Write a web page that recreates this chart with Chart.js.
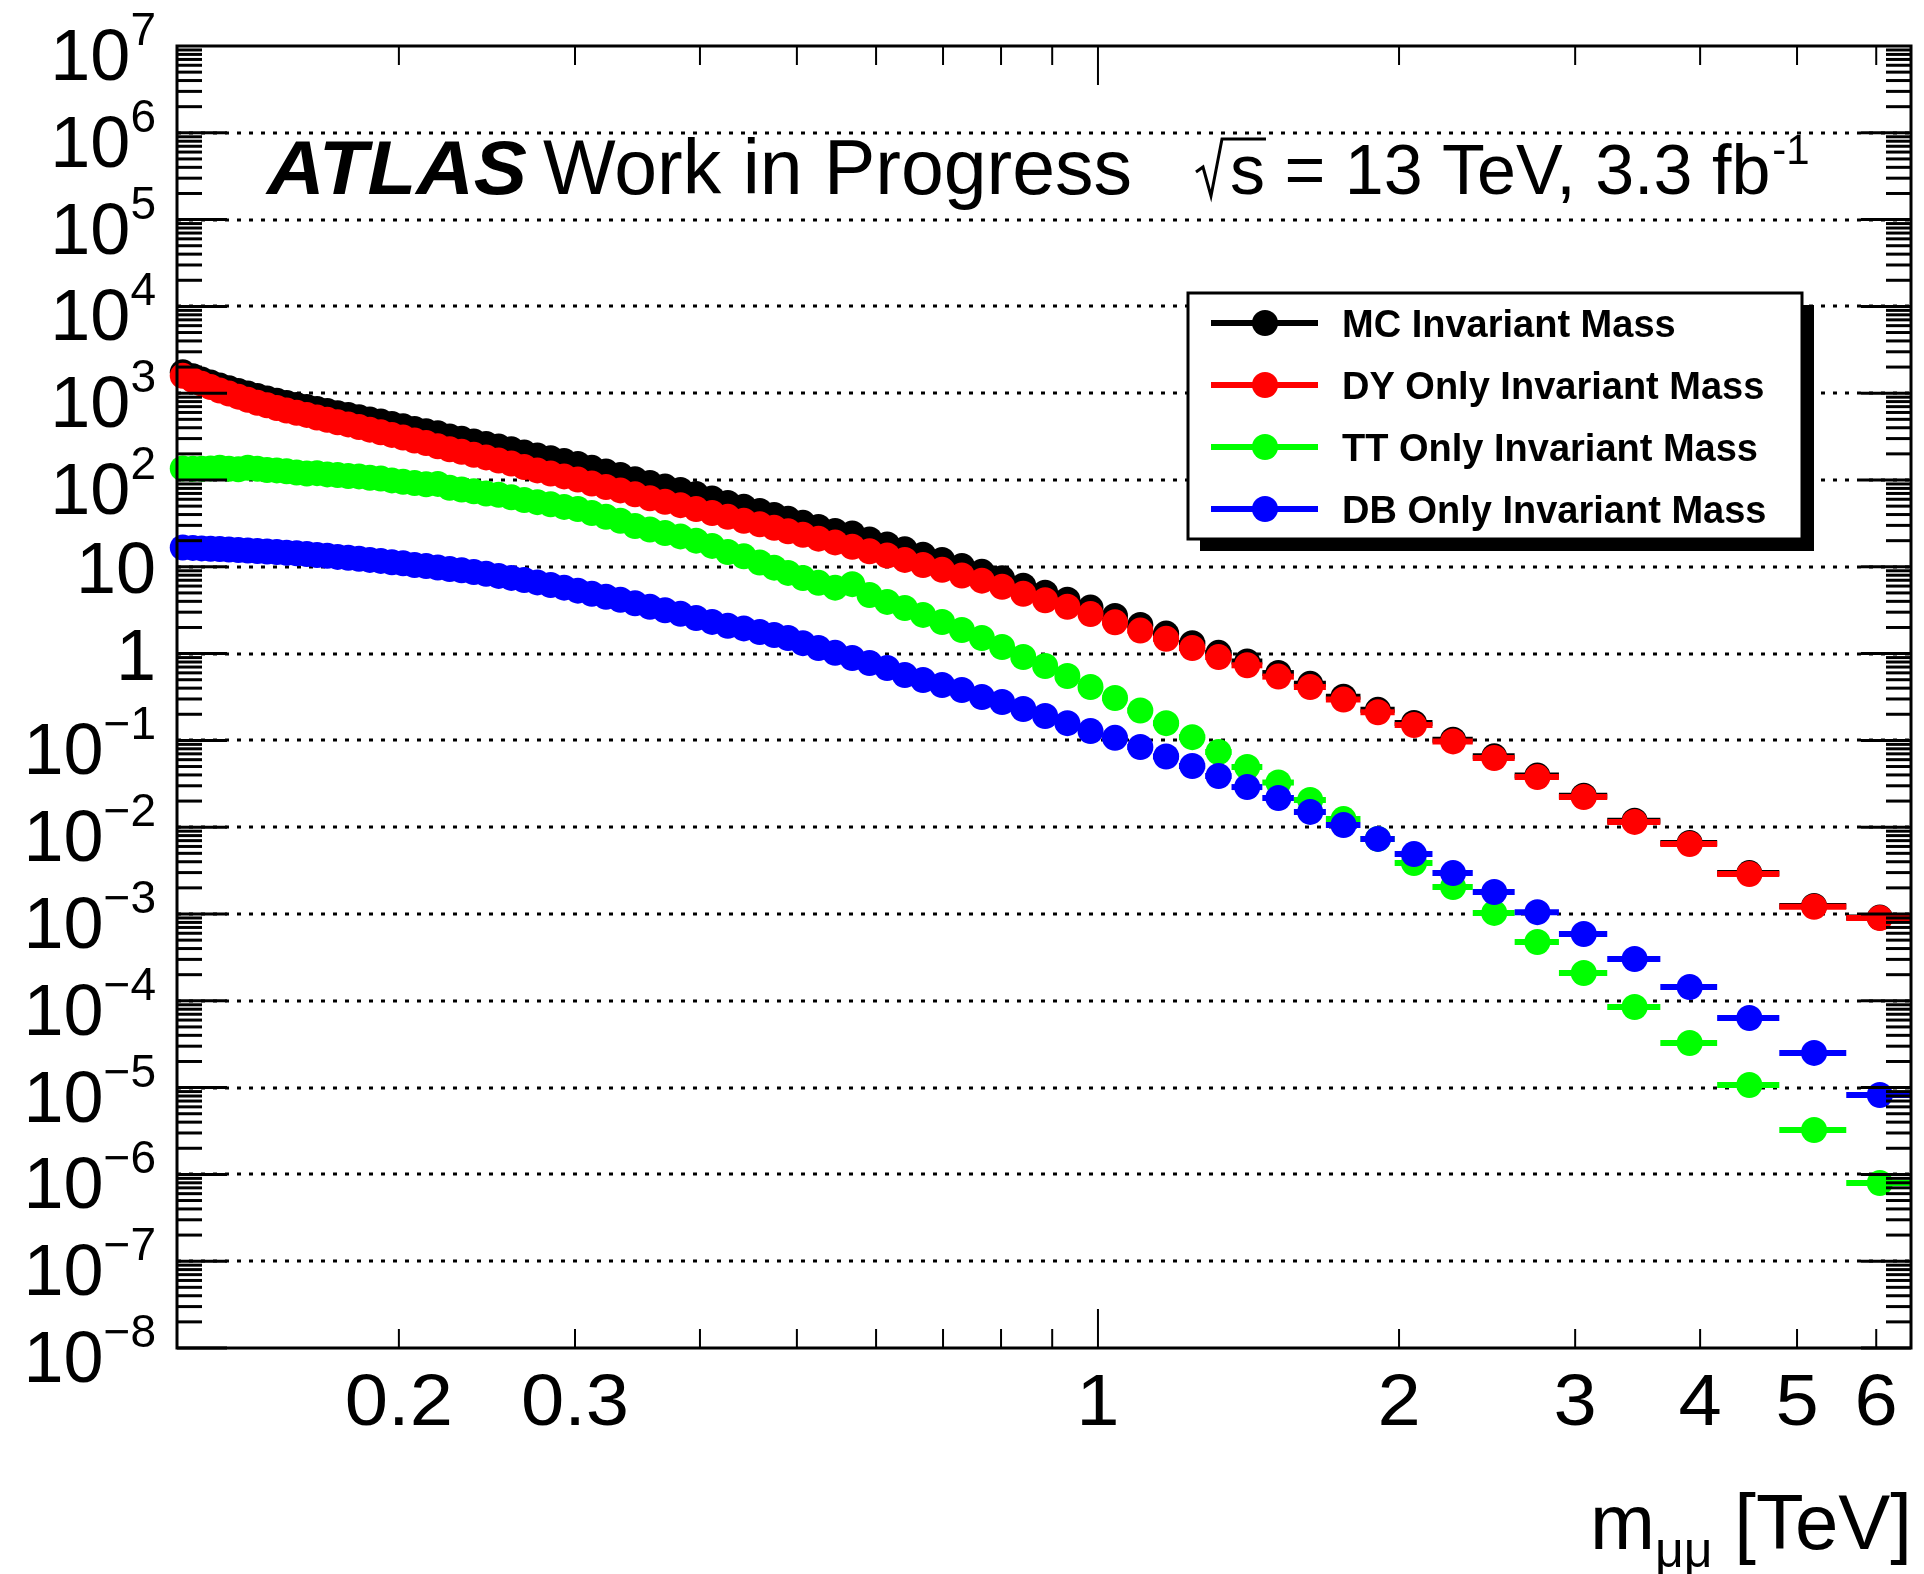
<!DOCTYPE html>
<html>
<head>
<meta charset="utf-8">
<script src="https://cdn.jsdelivr.net/npm/chart.js@4/dist/chart.umd.min.js"></script>
<style>
    html, body { margin: 0; padding: 0; background: #ffffff; }
    #massChart { display: block; }
</style>
</head>
<body>
<canvas id="massChart" width="1924" height="1574"></canvas>
<script>
// histogram bin edges, m_mumu in TeV
const massEdges = [
    0.120, 0.1232, 0.1257, 0.1283, 0.1310, 0.1338, 0.1367, 0.1397, 0.1428, 0.1460,
    0.1493, 0.1527, 0.1562, 0.1599, 0.1637, 0.1676, 0.1716, 0.1758, 0.1802, 0.1847,
    0.1894, 0.1943, 0.1993, 0.2046, 0.2101, 0.2158, 0.2217, 0.2279, 0.2343, 0.2410,
    0.2480, 0.2553, 0.2629, 0.2709, 0.2793, 0.2880, 0.2972, 0.3068, 0.3169, 0.3275,
    0.3386, 0.3503, 0.3626, 0.3756, 0.3893, 0.4037, 0.419, 0.434, 0.451, 0.467,
    0.482, 0.498, 0.516, 0.535, 0.557, 0.579, 0.603, 0.628, 0.654, 0.683,
    0.714, 0.748, 0.783, 0.821, 0.863, 0.908, 0.956, 1.01, 1.07, 1.135,
    1.205, 1.28, 1.36, 1.46, 1.57, 1.69, 1.83, 1.98, 2.16, 2.37,
    2.61, 2.89, 3.23, 3.65, 4.16, 4.80, 5.60, 6.5
];

// events per bin, full MC (sum of the three samples)
const yieldMC = [
    1738, 1565, 1439, 1327, 1226, 1140, 1061, 994, 926, 869,
    820, 772, 732, 695, 659, 624, 589, 561, 529, 498,
    471, 441, 416, 388, 365, 345, 317, 298, 278, 260,
    243, 226, 207, 191, 178, 165, 153, 138, 125, 114,
    102, 92.1, 83.9, 76.6, 68.8, 61.4, 54.5, 49.1, 43.9, 39.6,
    35.7, 32.1, 28.8, 25.9, 24.2, 20.6, 18.1, 15.9, 13.8, 12.0,
    10.2, 8.75, 7.36, 6.04, 5.03, 4.18, 3.39, 2.71, 2.14, 1.70,
    1.32, 1.02, 0.811, 0.597, 0.448, 0.318, 0.225, 0.159, 0.102, 0.0655,
    0.0393, 0.0231, 0.0119, 0.00658, 0.00296, 0.00124, 0.000909
];

// Drell-Yan
const yieldDY = [
    1585, 1413, 1288, 1175, 1072, 989, 912, 841, 776, 724,
    676, 631, 596, 562, 525, 495, 462, 437, 407, 380,
    355, 331, 309, 285, 266, 245, 226, 211, 195, 182,
    168, 155, 141, 129, 119, 110, 101, 91.2, 83.2, 75.9,
    68.4, 61.7, 56.2, 51.3, 46.2, 41.7, 37.6, 33.9, 30.9, 28.2,
    25.7, 23.4, 21.1, 19.1, 17.0, 15.1, 13.5, 12.0, 10.5, 9.23,
    7.94, 6.92, 5.89, 4.90, 4.12, 3.47, 2.85, 2.29, 1.84, 1.48,
    1.16, 0.912, 0.733, 0.543, 0.412, 0.295, 0.211, 0.150, 0.0973, 0.0627,
    0.0378, 0.0223, 0.0115, 0.0064, 0.00289, 0.00121, 0.0009
];

// ttbar
const yieldTT = [
    136, 135, 135, 136, 138, 135, 133, 138, 135, 130,
    129, 126, 122, 119, 120, 116, 114, 111, 110, 106,
    104, 98.9, 95.5, 92.3, 89.1, 90.2, 81.3, 77.6, 74.1, 70.0,
    67.6, 63.1, 58.9, 55.6, 52.5, 49.0, 46.2, 41.7, 37.6, 33.9,
    29.5, 26.9, 24.5, 22.4, 20.0, 17.4, 14.8, 13.2, 11.2, 9.77,
    8.51, 7.41, 6.53, 5.75, 6.31, 4.73, 3.94, 3.35, 2.79, 2.31,
    1.87, 1.51, 1.19, 0.914, 0.719, 0.552, 0.412, 0.308, 0.221, 0.158,
    0.109, 0.0735, 0.0494, 0.0327, 0.0206, 0.0124, 0.00733, 0.00387, 0.00205, 0.00103,
    0.000476, 0.000209, 8.49e-5, 3.27e-5, 1.07e-5, 3.25e-6, 7.96e-7
];

// diboson
const yieldDB = [
    16.7, 16.5, 16.3, 16.1, 16.0, 15.8, 15.6, 15.4, 15.2, 15.0,
    14.8, 14.5, 14.3, 14.0, 13.7, 13.4, 13.0, 12.7, 12.4, 12.0,
    11.7, 11.3, 11.0, 10.5, 10.2, 9.82, 9.44, 9.12, 8.71, 8.32,
    7.85, 7.45, 7.05, 6.61, 6.17, 5.75, 5.31, 4.90, 4.52, 4.17,
    3.80, 3.47, 3.16, 2.88, 2.57, 2.32, 2.09, 1.95, 1.77, 1.64,
    1.51, 1.32, 1.16, 1.02, 0.889, 0.780, 0.682, 0.566, 0.497, 0.435,
    0.381, 0.316, 0.277, 0.230, 0.191, 0.158, 0.128, 0.107, 0.0839, 0.0653,
    0.0507, 0.0389, 0.0290, 0.0217, 0.0150, 0.0106, 0.00733, 0.0049, 0.00296, 0.00179,
    0.00105, 0.000589, 0.000303, 0.000144, 6.34e-5, 2.51e-5, 8.22e-6
];

const seriesLabels = ['MC Invariant Mass', 'DY Only Invariant Mass', 'TT Only Invariant Mass', 'DB Only Invariant Mass'];
const xTickValues = [0.2, 0.3, 1, 2, 3, 4, 5, 6];
const xTickLabels = ['0.2', '0.3', '1', '2', '3', '4', '5', '6'];
const yTickExponents = [7, 6, 5, 4, 3, 2, 1, 0, -1, -2, -3, -4, -5, -6, -7, -8];

const FONT = '"Liberation Sans", Arial, Helvetica, sans-serif';
const seriesColors = ['#000000', '#ff0000', '#00ff00', '#0000ff'];

// one point per bin, placed at the bin centre, keeping the edges for the x error bar
function binPoints(values) {
    return values.map(function (v, i) {
        return { x: (massEdges[i] + massEdges[i + 1]) / 2, y: v, lo: massEdges[i], hi: massEdges[i + 1] };
    });
}

function line(ctx, x1, y1, x2, y2) {
    ctx.beginPath();
    ctx.moveTo(x1, y1);
    ctx.lineTo(x2, y2);
    ctx.stroke();
}

// text stretched a little in x, closer to the Helvetica widths
function wideText(ctx, text, x, y, stretch) {
    ctx.save();
    ctx.translate(x, y);
    ctx.scale(stretch, 1);
    ctx.fillText(text, 0, 0);
    ctx.restore();
    return ctx.measureText(text).width * stretch;
}

// dotted horizontal grid at every decade
const gridPlugin = {
    id: 'decadeGrid',
    beforeDatasetsDraw(chart) {
        let ctx = chart.ctx;
        let area = chart.chartArea;
        let ys = chart.scales.y;
        ctx.save();
        ctx.strokeStyle = '#000';
        ctx.lineWidth = 3;
        ctx.setLineDash([4, 8]);
        for (let e = -7; e <= 6; e++) {
            let y = Math.round(ys.getPixelForValue(Math.pow(10, e)));
            line(ctx, area.left, y, area.right, y);
        }
        ctx.restore();
    }
};

// horizontal bars showing the bin width, drawn just under each dataset's markers
const binWidthPlugin = {
    id: 'binWidth',
    beforeDatasetDraw(chart, args) {
        let ctx = chart.ctx;
        let ds = chart.data.datasets[args.index];
        let xs = chart.scales.x;
        let ys = chart.scales.y;
        ctx.save();
        ctx.strokeStyle = ds.backgroundColor;
        ctx.lineWidth = 6;
        ds.data.forEach(function (p) {
            let y = ys.getPixelForValue(p.y);
            line(ctx, xs.getPixelForValue(p.lo), y, xs.getPixelForValue(p.hi), y);
        });
        ctx.restore();
    }
};

function drawYLabel(ctx, exp, y) {
    let right = 156;
    ctx.textAlign = 'right';
    if (exp === 0 || exp === 1) {
        ctx.font = '72px ' + FONT;
        ctx.fillText(exp === 0 ? '1' : '10', right, y + 26);
        return;
    }
    let sup = exp < 0 ? '\u2212' + (-exp) : String(exp);
    ctx.font = '46px ' + FONT;
    let supWidth = ctx.measureText(sup).width;
    ctx.fillText(sup, right, y - 1);
    ctx.font = '72px ' + FONT;
    ctx.fillText('10', right - supWidth, y + 34);
}

// frame, inward ticks, labels, legend box and the header text
const framePlugin = {
    id: 'rootFrame',
    afterDraw(chart) {
        let ctx = chart.ctx;
        let area = chart.chartArea;
        let xs = chart.scales.x;
        let ys = chart.scales.y;
        ctx.save();
        ctx.strokeStyle = '#000';
        ctx.fillStyle = '#000';
        ctx.setLineDash([]);

        // y ticks on both sides, minor ticks 2..9 of each decade
        ctx.lineWidth = 3;
        for (let e = -8; e <= 6; e++) {
            for (let k = 1; k <= 9; k++) {
                let y = ys.getPixelForValue(k * Math.pow(10, e));
                let len = k === 1 ? 50 : 25;
                line(ctx, area.left, y, area.left + len, y);
                line(ctx, area.right, y, area.right - len, y);
            }
        }

        // x ticks, bottom and top
        ctx.lineWidth = 2;
        [0.2, 0.3, 0.4, 0.5, 0.6, 0.7, 0.8, 0.9, 1, 2, 3, 4, 5, 6].forEach(function (v) {
            let x = xs.getPixelForValue(v);
            let len = v === 1 ? 39 : 19;
            line(ctx, x, area.bottom, x, area.bottom - len);
            line(ctx, x, area.top, x, area.top + len);
        });

        // frame
        ctx.lineWidth = 3;
        ctx.strokeRect(area.left, area.top, area.right - area.left, area.bottom - area.top);

        // tick labels
        ctx.textBaseline = 'alphabetic';
        yTickExponents.forEach(function (e) {
            drawYLabel(ctx, e, ys.getPixelForValue(Math.pow(10, e)));
        });
        ctx.font = '72px ' + FONT;
        ctx.textAlign = 'left';
        xTickValues.forEach(function (v, i) {
            let x = xs.getPixelForValue(v);
            let w = ctx.measureText(xTickLabels[i]).width * 1.08;
            wideText(ctx, xTickLabels[i], x - w / 2, 1425, 1.08);
        });

        // axis title m_mumu [TeV]
        ctx.font = '78px ' + FONT;
        let tail = ' [TeV]';
        let tailWidth = ctx.measureText(tail).width;
        let mWidth = ctx.measureText('m').width;
        ctx.font = '50px ' + FONT;
        let sub = '\u03bc\u03bc';
        let subWidth = ctx.measureText(sub).width;
        let titleLeft = 1912 - tailWidth - subWidth - mWidth;
        ctx.fillText(sub, titleLeft + mWidth, 1567);
        ctx.font = '78px ' + FONT;
        ctx.fillText('m', titleLeft, 1549);
        ctx.fillText(tail, titleLeft + mWidth + subWidth, 1549);

        // header
        ctx.font = 'italic bold 76px ' + FONT;
        wideText(ctx, 'ATLAS', 267, 194, 1.05);
        ctx.font = '77px ' + FONT;
        ctx.fillText('Work in Progress', 543, 194);

        // sqrt sign over s
        ctx.lineWidth = 3;
        ctx.beginPath();
        ctx.moveTo(1196, 172);
        ctx.lineTo(1203, 167);
        ctx.lineTo(1211, 196);
        ctx.lineTo(1222, 139);
        ctx.lineTo(1266, 139);
        ctx.stroke();
        ctx.font = '70px ' + FONT;
        let energy = 's = 13 TeV, 3.3 fb';
        ctx.fillText(energy, 1230, 194);
        let energyWidth = ctx.measureText(energy).width;
        ctx.font = '42px ' + FONT;
        ctx.fillText('-1', 1230 + energyWidth + 2, 164);

        // legend with drop shadow
        let box = { left: 1188, top: 293, right: 1802, bottom: 539 };
        ctx.fillRect(box.left + 12, box.top + 12, box.right - box.left, box.bottom - box.top);
        ctx.fillStyle = '#fff';
        ctx.fillRect(box.left, box.top, box.right - box.left, box.bottom - box.top);
        ctx.strokeRect(box.left, box.top, box.right - box.left, box.bottom - box.top);
        ctx.font = 'bold 38px ' + FONT;
        chart.data.datasets.forEach(function (ds, i) {
            let y = 323 + i * 62;
            ctx.strokeStyle = ds.backgroundColor;
            ctx.fillStyle = ds.backgroundColor;
            ctx.lineWidth = 6;
            line(ctx, 1211, y, 1318, y);
            ctx.beginPath();
            ctx.arc(1265, y, 13, 0, Math.PI * 2);
            ctx.fill();
            ctx.fillStyle = '#000';
            ctx.fillText(ds.label, 1342, y + 14);
        });
        ctx.restore();
    }
};

function makeDataset(i, values, order) {
    return {
        label: seriesLabels[i],
        data: binPoints(values),
        backgroundColor: seriesColors[i],
        borderColor: seriesColors[i],
        pointRadius: 13,
        pointHoverRadius: 13,
        pointBorderWidth: 0,
        showLine: false,
        clip: false,
        order: order // blue ends up on top, black at the back
    };
}

let ctx = document.getElementById('massChart').getContext('2d');
let massChart = new Chart(ctx, {
    type: 'scatter',
    data: {
        datasets: [
            makeDataset(0, yieldMC, 4),
            makeDataset(1, yieldDY, 3),
            makeDataset(2, yieldTT, 2),
            makeDataset(3, yieldDB, 1)
        ]
    },
    options: {
        responsive: false,
        animation: false,
        devicePixelRatio: 1,
        layout: { padding: { left: 177, top: 46, right: 11, bottom: 226 } },
        plugins: {
            legend: { display: false },
            tooltip: { enabled: false }
        },
        scales: {
            x: {
                type: 'logarithmic',
                min: 0.12,
                max: 6.5,
                ticks: { display: false },
                grid: { display: false },
                border: { display: false },
                afterFit: function (scale) { scale.height = 0; }
            },
            y: {
                type: 'logarithmic',
                min: 1e-8,
                max: 1e7,
                ticks: { display: false },
                grid: { display: false },
                border: { display: false },
                afterFit: function (scale) { scale.width = 0; }
            }
        }
    },
    plugins: [gridPlugin, binWidthPlugin, framePlugin]
});
</script>
</body>
</html>
